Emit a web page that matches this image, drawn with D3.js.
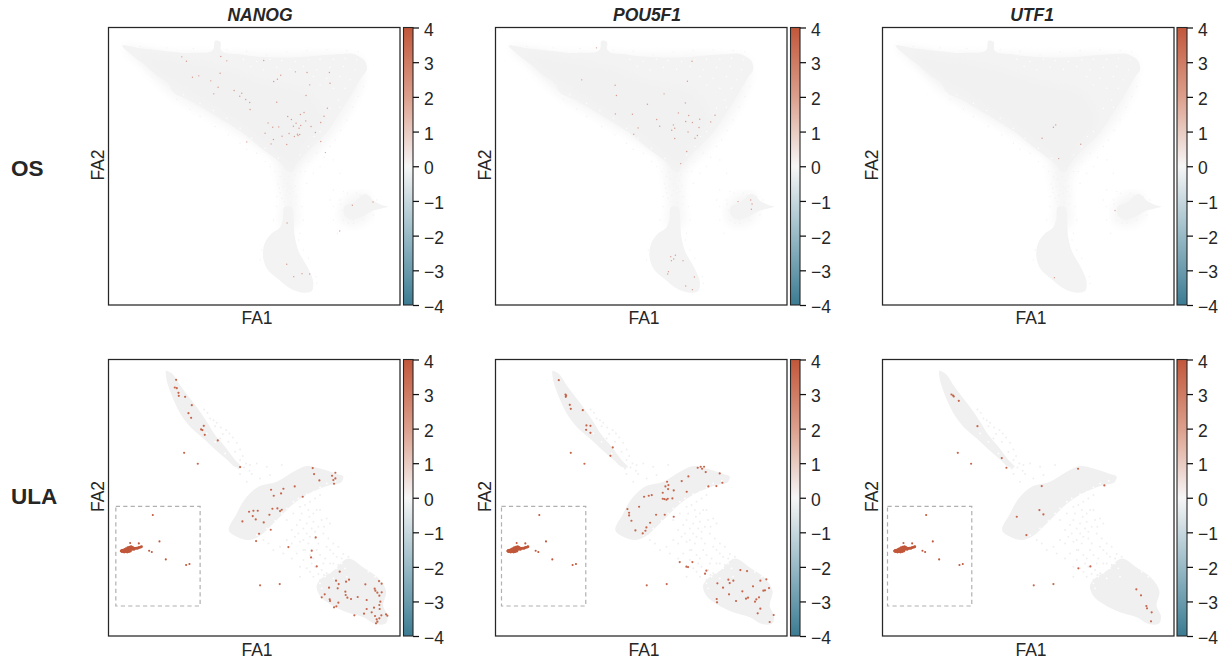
<!DOCTYPE html>
<html><head><meta charset="utf-8"><script src="https://cdn.jsdelivr.net/npm/d3@7"></script>
<style>html,body{margin:0;background:#fff}svg{display:block;font-family:"Liberation Sans",Arial,sans-serif}</style></head><body><svg id="c" width="1223" height="662"></svg>
<script>
const genes=["NANOG","POU5F1","UTF1"];
const rowNames=["OS","ULA"];
const cbarTicks=[-4,-3,-2,-1,0,1,2,3,4];
// FA coordinates are in arbitrary read-off units of the embedding.
const xDomains=[[25,900],[26.5,901.5],[27,902]];
const xLocalDomains=[[25,900],[17,892],[8,883]];
const yDomains=[[23,855],[28,858]];

// OS embedding: outlines of the grey background cell cloud
const osHalo=[[[70,84],[200,98],[340,100],[520,105],[710,105],[785,120],[790,170],[755,260],[700,340],[640,410],[600,450],[590,540],[586,620],[548,620],[548,540],[534,470],[530,430],[460,370],[320,285],[215,225],[130,140]],[[720,600],[745,530],[800,520],[810,590],[760,620]]];
const osBody=[
 [[66,78],[120,85],[200,94],[280,99],[340,88],[346,62],[360,65],[362,90],[420,104],[500,112],[600,112],[700,104],[770,106],[795,124],[800,150],[785,172],[765,205],[742,245],[715,285],[690,325],[655,365],[620,398],[592,428],[572,458],[560,452],[545,432],[520,412],[480,382],[440,348],[380,308],[320,272],[270,242],[215,212],[205,192],[170,166],[130,132],[95,106]],
 [[556,560],[572,560],[581,600],[583,640],[594,690],[624,745],[640,790],[636,812],[610,818],[575,808],[535,778],[500,745],[489,712],[496,665],[515,640],[540,622],[548,600]],
 [[732,562],[760,548],[797,522],[824,545],[845,555],[864,560],[845,566],[820,572],[790,588],[750,598],[733,585]]
];
const osCore=[[[120,105],[210,118],[350,140],[500,190],[630,225],[670,300],[610,385],[572,442],[548,420],[480,362],[380,290],[275,222],[215,185],[155,145]]];
const osSpeckle=[[540,470],[552,478],[566,470],[578,482],[584,465],[534,492],[548,500],[560,492],[576,505],[586,498],[540,518],[556,526],[570,520],[588,530],[545,535],[600,420],[625,425],[650,400],[672,412],[690,380],[705,360],[722,332],[740,300],[758,262],[775,230],[790,200],[660,440],[640,460],[620,490],[700,420],[720,460],[700,510],[730,515],[745,610],[730,600],[760,610],[712,640],[700,600],[420,370],[440,388],[470,400],[495,425],[510,440],[385,345],[345,320],[300,290],[270,268],[230,238],[500,105],[560,96],[620,92],[680,90],[740,92],[775,96],[440,94],[380,90],[280,86],[200,84],[120,80],[605,560],[610,600],[520,600],[530,560],[700,560],[690,540],[720,540],[780,525],[600,455],[615,455],[525,455],[548,458],[570,500],[562,512],[538,505],[580,515],[552,545],[572,548],[588,552],[530,530],[600,640],[596,660],[520,650],[512,660],[610,690],[625,715],[648,770],[650,790],[480,720],[485,690],[742,520],[770,520],[810,530],[830,540],[820,585],[790,600],[760,600],[725,570],[722,552]];
const osHoles=[[430,118],[470,125],[510,118],[545,122],[585,125],[625,120],[660,118],[700,118],[735,115],[770,120],[452,140],[490,150],[530,142],[570,148],[610,140],[650,150],[690,142],[730,140],[765,150],[640,170],[680,175],[720,170],[750,180],[660,195],[700,205],[735,205],[715,240],[690,265],[720,262],[300,250],[340,272],[380,295],[420,325],[455,355],[495,385],[535,415],[250,225],[642,350],[660,335],[625,380],[600,405]];
// ULA embedding
const ulaBody=[
 [[198,62],[212,68],[240,105],[270,145],[300,185],[320,215],[345,255],[375,290],[405,330],[423,352],[410,352],[380,328],[345,298],[315,270],[280,240],[250,205],[225,160],[207,115],[198,80]],
 [[388,545],[410,490],[440,440],[475,410],[530,395],[580,365],[620,348],[660,355],[710,372],[730,380],[725,395],[690,405],[650,420],[610,440],[570,470],[540,500],[510,530],[475,560],[445,570],[410,560]],
 [[650,705],[665,685],[700,662],[745,625],[790,652],[840,690],[858,722],[850,770],[863,798],[858,820],[830,823],[790,802],[740,787],[690,762],[660,738]]
];
const ulaSpeckle=[[312,178],[322,188],[340,210],[350,218],[362,232],[378,240],[388,250],[398,262],[410,278],[420,298],[428,318],[438,340],[330,205],[345,228],[368,252],[385,275],[405,305],[420,330],[432,352],[448,362],[470,340],[500,350],[545,345],[420,372],[440,395],[455,372],[480,385],[510,375],[615,465],[630,455],[645,445],[660,435],[605,490],[625,480],[640,490],[660,480],[600,510],[620,520],[640,515],[665,510],[680,505],[690,520],[575,540],[595,550],[620,550],[645,545],[670,550],[685,565],[700,580],[715,590],[730,612],[745,620],[560,570],[540,590],[520,600],[575,580],[600,575],[625,580],[655,580],[680,590],[700,610],[590,610],[610,600],[635,640],[660,615],[675,625],[620,655],[645,650],[690,640],[715,645],[600,650],[575,625],[665,660],[640,680],[680,670],[490,570],[505,580],[550,610],[440,455],[430,470],[415,355],[360,265],[450,345],[650,480],[672,530],[628,500],[600,470],[580,490],[560,510],[590,525],[610,535],[635,535],[655,530],[645,565],[615,600],[630,615],[650,600],[690,600],[610,630],[640,625],[670,640],[600,680],[630,665],[655,672],[585,560],[610,570],[630,560],[700,640],[725,625],[710,620],[735,635],[660,690],[672,675]];
const ulaHoles=[[595,445],[580,455],[560,475],[545,490],[525,512],[500,535],[620,432],[640,425],[660,412],[680,400],[706,392],[470,555],[725,640],[710,655],[690,668],[675,680],[735,655],[700,685],[740,680],[660,700],[665,715],[825,680],[805,665],[345,275],[320,250],[375,310]];

// Cells with detected expression, per gene, in each embedding
const osNANOG=[[245,111],[259,124],[362,110],[380,123],[491,122],[277,172],[296,168],[360,160],[332,183],[354,202],[341,222],[402,212],[425,220],[419,229],[437,239],[449,248],[450,269],[542,166],[532,178],[521,185],[586,156],[621,158],[688,158],[690,190],[629,195],[618,227],[530,247],[682,265],[672,289],[612,278],[601,284],[563,290],[574,299],[617,303],[662,308],[504,309],[588,310],[580,319],[602,317],[633,320],[518,322],[536,321],[597,325],[646,338],[495,340],[567,341],[583,350],[592,343],[599,344],[594,347],[546,349],[520,359],[662,365],[440,366],[513,372],[560,374],[676,398],[757,556],[819,546],[561,609],[719,633],[560,733],[606,761],[629,762],[581,770]];
const osPOU5F1=[[320,84],[607,124],[593,184],[276,180],[376,196],[380,227],[523,222],[587,249],[473,253],[566,279],[377,282],[428,283],[597,287],[676,286],[630,298],[501,299],[588,305],[608,308],[663,306],[551,315],[510,319],[555,325],[628,323],[546,331],[445,324],[595,336],[432,343],[623,347],[616,355],[555,356],[591,395],[573,431],[745,545],[783,540],[787,552],[785,568],[543,710],[557,706],[552,717],[545,722],[580,722],[536,755],[534,762],[614,771],[588,798],[608,809]];
const osUTF1=[[528,315],[521,322],[487,355],[603,373],[537,416],[706,572],[524,773]];
const ulaNANOG=[[228,89],[224,112],[230,114],[235,128],[236,137],[255,140],[275,165],[265,189],[273,203],[311,227],[303,238],[307,240],[314,254],[353,271],[420,351],[252,308],[293,341],[638,354],[642,372],[658,391],[696,377],[706,368],[706,385],[700,390],[702,401],[584,409],[550,416],[513,419],[543,430],[521,437],[608,440],[532,475],[517,476],[545,479],[540,483],[447,485],[460,482],[473,482],[458,498],[467,508],[508,494],[491,517],[427,514],[512,539],[477,551],[468,573],[647,562],[565,591],[635,602],[633,622],[650,649],[719,665],[480,706],[539,702],[708,692],[716,702],[713,715],[747,689],[738,695],[796,703],[837,693],[845,701],[824,716],[826,722],[832,728],[845,727],[838,737],[674,733],[687,713],[665,742],[689,748],[690,753],[715,758],[709,769],[702,772],[736,725],[737,735],[742,743],[753,747],[773,741],[800,750],[841,755],[838,765],[839,777],[822,773],[815,787],[800,777],[792,791],[763,796],[825,798],[844,796],[858,793],[862,797],[838,805],[830,808],[832,815],[828,820]];
const ulaPOU5F1=[[207,90],[227,133],[229,136],[228,140],[240,164],[243,176],[279,180],[290,226],[302,227],[289,239],[302,248],[369,292],[362,317],[243,308],[284,341],[624,353],[633,350],[643,350],[637,356],[648,366],[690,370],[698,398],[680,408],[656,409],[596,379],[576,393],[532,395],[527,409],[536,405],[535,417],[552,421],[519,428],[591,425],[486,435],[477,437],[463,440],[548,445],[534,446],[524,447],[530,449],[519,446],[448,470],[413,477],[418,488],[418,496],[425,512],[499,494],[525,494],[552,500],[481,518],[470,532],[437,541],[467,542],[459,550],[570,636],[590,650],[595,651],[608,636],[650,662],[646,671],[471,706],[531,702],[752,660],[772,663],[716,689],[731,692],[720,699],[683,700],[700,713],[790,709],[812,692],[830,688],[838,714],[826,721],[821,722],[758,724],[718,733],[681,747],[682,757],[739,753],[769,746],[775,743],[808,742],[800,748],[796,755],[812,776],[804,790],[852,795],[840,816]];
const ulaUTF1=[[215,133],[220,136],[222,139],[237,152],[293,228],[366,324],[380,353],[234,308],[274,341],[595,356],[674,406],[486,408],[479,480],[491,493],[411,500],[440,555],[596,655],[632,649],[770,718],[784,736],[800,768],[802,775],[816,787],[814,814],[462,706],[521,702]];
// Satellite population in the dashed box (same in each ULA panel, column 1 read-off frame)
const ulaBoxStray=[[158,495],[90,579],[116,580],[178,574],[147,602],[155,606],[197,628],[258,645],[268,642]];
const ulaBoxCluster=[[63,603],[65,601],[66,605],[69,600],[70,604],[72,606],[74,598],[75,602],[76,605],[78,596],[79,600],[80,604],[81,606],[83,593],[84,597],[85,601],[86,605],[88,591],[89,595],[90,599],[91,603],[93,590],[94,594],[95,598],[97,592],[98,596],[100,594],[101,598],[103,595],[106,595],[109,594],[112,595],[115,593],[118,592],[122,591],[124,590],[68,603],[73,603],[77,600],[82,599],[87,597],[92,596]];
const boxX=[[47,300],[35,288],[23,276]];
const boxY=[469,768];

const osExpr=[osNANOG,osPOU5F1,osUTF1];
const ulaExpr=[ulaNANOG,ulaPOU5F1,ulaUTF1];

const panelX=[[108.5,400],[495.5,787],[882.5,1174]];
const panelY=[[27.5,305],[359.5,636]];
const cbarX=[[403.5,413],[790.5,800],[1177,1187]];
const titleCx=[260,647,1032];
const xlabelCx=[257,644,1031];
const INK="#262626", RED="#c1573a";

const svg=d3.select("#c");
const defs=svg.append("defs");
[["soft",0.7],["wide",5]].forEach(([id,s])=>defs.append("filter").attr("id",id).attr("x","-10%").attr("y","-10%").attr("width","120%").attr("height","120%")
  .append("feGaussianBlur").attr("stdDeviation",s));
const cbarColor=d3.scaleLinear().domain([-4,-2,0,2,4]).range(["#3b7b92","#98bac6","#f6f6f6","#dc9f8c",RED]);
const grad=defs.append("linearGradient").attr("id","cb").attr("x1",0).attr("x2",0).attr("y1",1).attr("y2",0);
d3.range(-4,4.01,0.5).forEach(v=>grad.append("stop").attr("offset",(v+4)/8).attr("stop-color",cbarColor(v)));

rowNames.forEach((rn,r)=>{
  const [py0,py1]=panelY[r];
  svg.append("text").attr("x",11).attr("y",r?504:176).attr("font-size",22.5).attr("font-weight","bold").attr("fill",INK).text(rn);
  genes.forEach((g,c)=>{
    const [px0,px1]=panelX[c];
    const x=d3.scaleLinear().domain(xDomains[c]).range([px0,px1]);
    const y=d3.scaleLinear().domain(yDomains[r]).range([py0,py1]);
    const localX=d3.scaleLinear().domain(xLocalDomains[c]).range([px0,px1]);
    const line=d3.line().x(d=>x(d[0])).y(d=>y(d[1])).curve(d3.curveCatmullRomClosed.alpha(1));
    const g0=svg.append("g");
    if(!r){
      g0.selectAll(".h").data(osHalo).join("path").attr("d",line).attr("fill","#f6f6f6").attr("filter","url(#wide)");
    }
    g0.selectAll(".b").data(r?ulaBody:osBody).join("path").attr("d",line).attr("fill",r?"#f0f0f0":"#f3f3f3").attr("filter","url(#soft)");
    if(!r) g0.selectAll(".c").data(osCore).join("path").attr("d",line).attr("fill","#f1f1f1").attr("filter","url(#wide)");
    g0.selectAll(".w").data(r?ulaHoles:osHoles).join("circle").attr("cx",d=>x(d[0])).attr("cy",d=>y(d[1])).attr("r",r?0.9:0.7).attr("fill","#fff");
    g0.selectAll(".s").data(r?ulaSpeckle:osSpeckle).join("circle").attr("cx",d=>x(d[0])).attr("cy",d=>y(d[1])).attr("r",r?1:0.7).attr("fill",r?"#efefef":"#f2f2f2");
    // expressing cells
    const pts=(r?ulaExpr:osExpr)[c];
    svg.append("g").selectAll("circle").data(pts).join("circle")
      .attr("cx",d=>localX(d[0])).attr("cy",d=>y(d[1])).attr("r",r?1.1:0.7).attr("fill",RED).attr("fill-opacity",r?0.9:0.55);
    if(r){
      svg.append("rect")
        .attr("x",localX(boxX[c][0])).attr("y",y(boxY[0]))
        .attr("width",localX(boxX[c][1])-localX(boxX[c][0])).attr("height",y(boxY[1])-y(boxY[0]))
        .attr("fill","none").attr("stroke","#b0b0b0").attr("stroke-width",1.2).attr("stroke-dasharray","4.2,3.2");
      const bg=svg.append("g").attr("fill",RED);
      bg.selectAll(".k").data(ulaBoxCluster).join("circle").attr("cx",d=>x(d[0])).attr("cy",d=>y(d[1])).attr("r",1.4);
      bg.selectAll(".t").data(ulaBoxStray).join("circle").attr("cx",d=>x(d[0])).attr("cy",d=>y(d[1])).attr("r",1.05);
    }
    svg.append("rect").attr("x",px0).attr("y",py0).attr("width",px1-px0).attr("height",py1-py0)
      .attr("fill","none").attr("stroke",INK).attr("stroke-width",1.25);
    // colour bar
    const [cx0,cx1]=cbarX[c];
    svg.append("rect").attr("x",cx0).attr("y",py0).attr("width",cx1-cx0).attr("height",py1-py0)
      .attr("fill","url(#cb)").attr("stroke",INK).attr("stroke-width",1.1);
    const cs=d3.scaleLinear().domain([-4,4]).range([py1,py0]);
    const ax=svg.append("g").attr("transform",`translate(${cx1},0)`).call(d3.axisRight(cs).tickValues(cbarTicks).tickSize(6).tickPadding(5));
    ax.select(".domain").remove();
    ax.selectAll("line").attr("stroke","#111").attr("stroke-width",1.25);
    ax.selectAll("text").attr("font-size",17.5).attr("font-family",'"Liberation Sans",Arial,sans-serif').attr("fill",INK).attr("dy","0.43em");
    // labels
    svg.append("text").attr("x",xlabelCx[c]).attr("y",r?656:324).attr("text-anchor","middle").attr("font-size",17.5).attr("fill",INK).text("FA1");
    const fy=r?496.5:165;
    svg.append("text").attr("transform",`translate(${px0-4.5},${fy}) rotate(-90)`).attr("text-anchor","middle").attr("font-size",17.5).attr("fill",INK).text("FA2");
    if(!r) svg.append("text").attr("x",titleCx[c]).attr("y",21).attr("text-anchor","middle").attr("font-size",17.5).attr("font-weight","bold").attr("font-style","italic").attr("fill",INK).text(g);
  });
});
</script></body></html>
